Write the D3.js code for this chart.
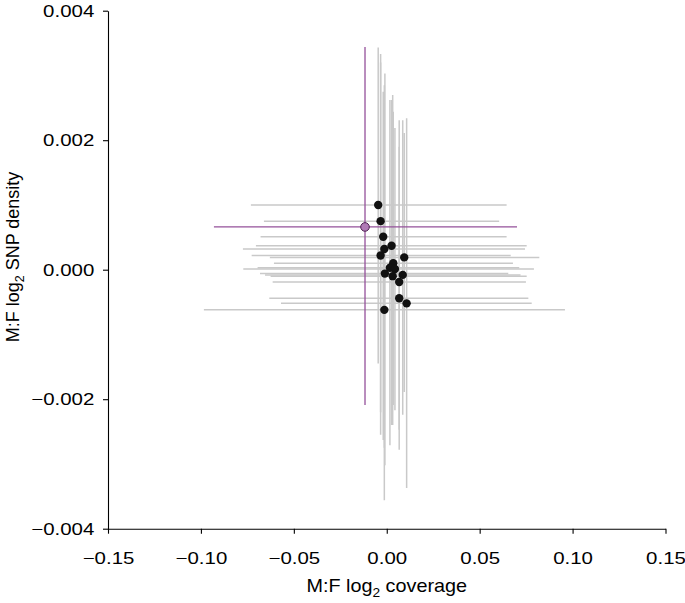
<!DOCTYPE html>
<html>
<head>
<meta charset="utf-8">
<script src="https://cdn.jsdelivr.net/npm/d3@7"></script>
<style>
  html, body { margin: 0; padding: 0; background: #fff; }
  svg { display: block; }
  text { font-family: "Liberation Sans", Arial, Helvetica, sans-serif; fill: #000; }
</style>
</head>
<body>
<svg id="chart" width="685" height="603"></svg>
<script>
// ---- data ----
// black points: coverage (x) and SNP density (y) with error ranges
const covMean = [-0.0046, -0.0033, -0.0019, 0.0026, -0.0013, -0.0033, 0.0094, 0.0035, 0.0017, 0.0044, -0.0010, 0.0032, 0.0086, 0.0067, 0.0067, 0.0107, -0.0013];
const covLow  = [-0.0731, -0.0661, -0.0679, -0.0704, -0.0774, -0.0727, -0.0629, -0.0607, -0.0695, -0.0772, -0.0682, -0.0625, -0.0655, -0.0614, -0.0632, -0.0569, -0.0984];
const covHigh = [0.0645, 0.0605, 0.0645, 0.0753, 0.0744, 0.0667, 0.0821, 0.0679, 0.0713, 0.0792, 0.0654, 0.0753, 0.0720, 0.0749, 0.0762, 0.0780, 0.0959];
const snpMean = [0.00100, 0.00075, 0.00051, 0.00037, 0.00032, 0.00022, 0.00019, 0.00010, 0.00003, 0.00001, -0.00006, -0.00010, -0.00008, -0.00019, -0.00044, -0.00052, -0.00062];
const snpLow  = [-0.00145, -0.00255, -0.00263, -0.00240, -0.00356, -0.00220, -0.00189, -0.00209, -0.00271, -0.00217, -0.00302, -0.00240, -0.00224, -0.00278, -0.00247, -0.00337, -0.00275];
const snpHigh = [0.00343, 0.00333, 0.00275, 0.00262, 0.00257, 0.00320, 0.00211, 0.00244, 0.00262, 0.00219, 0.00303, 0.00270, 0.00231, 0.00190, 0.00231, 0.00234, 0.00285];
// highlighted (purple) point
const hlCov = [-0.0117, -0.0930, 0.0701];      // mean, low, high
const hlSnp = [0.00066, -0.00209, 0.00344];    // mean, low, high
// axes
const xTicks = [-0.15, -0.10, -0.05, 0.00, 0.05, 0.10, 0.15];
const yTicks = [-0.004, -0.002, 0.000, 0.002, 0.004];
const xDomain = [-0.15, 0.15];
const yDomain = [-0.004, 0.004];

// ---- layout ----
const svg = d3.select("#chart");
const mLeft = 108, mRight = 665.5, mTop = 10.7, mBottom = 528.7;
const x = d3.scaleLinear().domain(xDomain).range([mLeft, mRight]);
const y = d3.scaleLinear().domain(yDomain).range([mBottom, mTop]);
const SX = 1.24;   // horizontal stretch of tick label glyphs

const pts = covMean.map((d, i) => ({
  x: d, xl: covLow[i], xh: covHigh[i],
  y: snpMean[i], yl: snpLow[i], yh: snpHigh[i]
}));

const grey = "#c9c9c9";
const gBars = svg.append("g");
gBars.selectAll("line.h").data(pts).join("line").attr("class", "h")
  .attr("x1", d => x(d.xl)).attr("x2", d => x(d.xh))
  .attr("y1", d => y(d.y)).attr("y2", d => y(d.y))
  .attr("stroke", grey).attr("stroke-width", 1.5);
gBars.selectAll("line.v").data(pts).join("line").attr("class", "v")
  .attr("x1", d => x(d.x)).attr("x2", d => x(d.x))
  .attr("y1", d => y(d.yl)).attr("y2", d => y(d.yh))
  .attr("stroke", grey).attr("stroke-width", 1.5);

// purple error bars
const purple = "#94509a";
svg.append("line")
  .attr("x1", x(hlCov[1])).attr("x2", x(hlCov[2]))
  .attr("y1", y(hlSnp[0])).attr("y2", y(hlSnp[0]))
  .attr("stroke", purple).attr("stroke-width", 1.3);
svg.append("line")
  .attr("x1", x(hlCov[0])).attr("x2", x(hlCov[0]))
  .attr("y1", y(hlSnp[1])).attr("y2", y(hlSnp[2]))
  .attr("stroke", purple).attr("stroke-width", 1.3);

// black points
svg.append("g").selectAll("circle").data(pts).join("circle")
  .attr("cx", d => x(d.x)).attr("cy", d => y(d.y))
  .attr("r", 4.2).attr("fill", "#111");

// purple point
svg.append("circle")
  .attr("cx", x(hlCov[0])).attr("cy", y(hlSnp[0]))
  .attr("r", 4.3).attr("fill", "#b07ab6")
  .attr("stroke", "#4e2352").attr("stroke-width", 1);

// ---- axes ----
const fmtX = d3.format(".2f");
const fmtY = d3.format(".3f");
const xAxis = svg.append("g").attr("transform", `translate(0,${mBottom})`)
  .call(d3.axisBottom(x).tickValues(xTicks).tickFormat(fmtX).tickSize(5).tickSizeOuter(0));
const yAxis = svg.append("g").attr("transform", `translate(${mLeft},0)`)
  .call(d3.axisLeft(y).tickValues(yTicks).tickFormat(fmtY).tickSize(5).tickSizeOuter(0));
[xAxis, yAxis].forEach(a => {
  a.select(".domain").attr("stroke", "#000").attr("stroke-width", 1.1);
  a.selectAll(".tick line").attr("stroke", "#000").attr("stroke-width", 1.1);
  a.selectAll("text").attr("font-size", 16.5).attr("fill", "#000")
    .attr("font-family", '"Liberation Sans", Arial, sans-serif');
});
xAxis.selectAll("text").attr("y", 35).attr("dy", 0).attr("transform", `scale(${SX},1)`)
  .attr("x", 0);
xAxis.selectAll(".tick").each(function() {
  const t = d3.select(this).select("text");
  t.attr("transform", `scale(${SX},1)`);
});
yAxis.selectAll("text").attr("x", -13.7 / SX).attr("dy", "0.34em").attr("transform", `scale(${SX},1)`);

// ---- axis titles ----
const xt = svg.append("text")
  .attr("transform", `translate(${(mLeft + mRight) / 2},592) scale(1.1,1)`)
  .attr("text-anchor", "middle").attr("font-size", 18);
xt.append("tspan").text("M:F log");
xt.append("tspan").attr("font-size", 12.5).attr("dy", 5).text("2");
xt.append("tspan").attr("dy", -5).text(" coverage");

const yt = svg.append("text")
  .attr("transform", `translate(18.5,257) rotate(-90)`)
  .attr("text-anchor", "middle").attr("font-size", 18);
yt.append("tspan").text("M:F log");
yt.append("tspan").attr("font-size", 12.5).attr("dy", 5).text("2");
yt.append("tspan").attr("dy", -5).text(" SNP density");
</script>
</body>
</html>
